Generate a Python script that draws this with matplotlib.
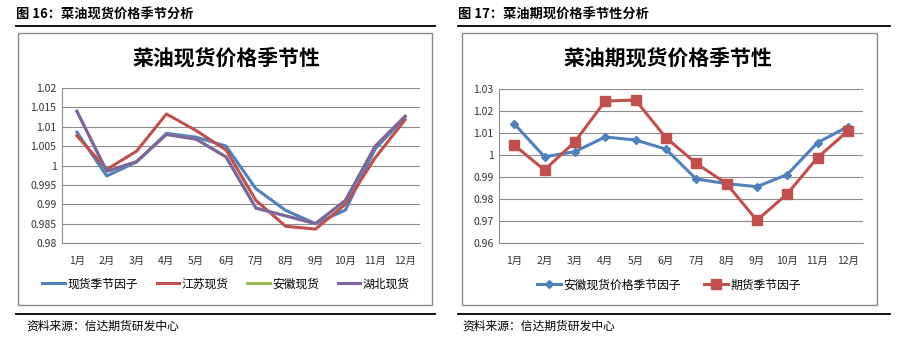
import matplotlib
matplotlib.use("Agg")
import matplotlib.pyplot as plt
from matplotlib.patches import Rectangle
from matplotlib.lines import Line2D

plt.rcParams['font.family'] = ['Noto Sans CJK SC', 'DejaVu Sans']

months = ["1月", "2月", "3月", "4月", "5月", "6月", "7月", "8月", "9月", "10月", "11月", "12月"]

# Left chart: 菜油现货价格季节性
spot_factor = [1.0086, 0.9973, 1.0009, 1.0083, 1.0073, 1.0050, 0.9940, 0.9884, 0.9850, 0.9885, 1.0043, 1.0125]
jiangsu = [1.0077, 0.9990, 1.0037, 1.0133, 1.0090, 1.0040, 0.9910, 0.9843, 0.9836, 0.9900, 1.0020, 1.0118]
anhui = [1.0140, 0.9985, 1.0010, 1.0080, 1.0068, 1.0022, 0.9890, 0.9870, 0.9850, 0.9910, 1.0050, 1.0127]
hubei = [1.0140, 0.9985, 1.0010, 1.0080, 1.0068, 1.0022, 0.9890, 0.9870, 0.9850, 0.9910, 1.0050, 1.0127]
left_yticks = [0.98, 0.985, 0.99, 0.995, 1.0, 1.005, 1.01, 1.015, 1.02]
left_ylabels = ["0.98", "0.985", "0.99", "0.995", "1", "1.005", "1.01", "1.015", "1.02"]

# Right chart: 菜油期现价格季节性
anhui_factor = [1.0142, 0.9992, 1.0015, 1.0082, 1.0068, 1.0027, 0.9891, 0.9870, 0.9856, 0.9911, 1.0056, 1.0129]
futures_factor = [1.0045, 0.9932, 1.0060, 1.0245, 1.0250, 1.0079, 0.9962, 0.9870, 0.9703, 0.9823, 0.9988, 1.0109]
right_yticks = [0.96, 0.97, 0.98, 0.99, 1.0, 1.01, 1.02, 1.03]
right_ylabels = ["0.96", "0.97", "0.98", "0.99", "1", "1.01", "1.02", "1.03"]

W, H = 910, 356
fig = plt.figure(figsize=(W / 100, H / 100), dpi=100)

def fx(x):
    return x / W

def fy(y):
    return 1 - y / H

BLUE = "#4F81BD"
RED = "#C0504D"
GREEN = "#9BBB59"
PURPLE = "#8064A2"
GRID = "#8C8C8C"

def add_ax(x0, y0, x1, y1):
    ax = fig.add_axes([fx(x0), fy(y1), fx(x1 - x0), (y1 - y0) / H])
    return ax

def style(ax, yticks, ylabels):
    ax.set_yticks(yticks)
    ax.set_yticklabels(ylabels)
    ax.set_ylim(yticks[0], yticks[-1])
    ax.set_xlim(-0.5, 11.5)
    ax.set_xticks(range(12))
    ax.set_xticklabels(months)
    ax.tick_params(length=0, labelsize=7.5, colors="#333333")
    ax.tick_params(axis='x', pad=9)
    ax.tick_params(axis='y', pad=4)
    ax.grid(axis='y', color=GRID, linewidth=0.8)
    ax.set_axisbelow(True)
    for s in ["top", "right"]:
        ax.spines[s].set_visible(False)
    for s in ["left", "bottom"]:
        ax.spines[s].set_color(GRID)
        ax.spines[s].set_linewidth(0.8)

# frames and rules
for (bx0, bx1, rx0, rx1) in [(18, 432, 16, 435), (462, 877, 458, 890)]:
    fig.patches.append(Rectangle((fx(bx0), fy(305)), fx(bx1 - bx0), (305 - 33) / H,
                                 transform=fig.transFigure, fill=False,
                                 edgecolor="#8A8A8A", linewidth=1.0))
    for yy in (26, 314):
        fig.lines.append(Line2D([fx(rx0), fx(rx1)], [fy(yy), fy(yy)],
                                transform=fig.transFigure, color="black", linewidth=1.3))

# headers
fig.text(fx(16), fy(15), "图 16：菜油现货价格季节分析", fontsize=9.5, fontweight='bold', va='center', ha='left')
fig.text(fx(458), fy(15), "图 17：菜油期现价格季节性分析", fontsize=9.5, fontweight='bold', va='center', ha='left')
fig.text(fx(26), fy(326), "资料来源：信达期货研发中心", fontsize=8.5, va='center', ha='left')
fig.text(fx(462), fy(326), "资料来源：信达期货研发中心", fontsize=8.5, va='center', ha='left')

# left chart
ax1 = add_ax(62, 88, 420, 243)
x = list(range(12))
l1, = ax1.plot(x, spot_factor, color=BLUE, lw=2.2, label="现货季节因子")
l2, = ax1.plot(x, jiangsu, color=RED, lw=2.2, label="江苏现货")
l3, = ax1.plot(x, anhui, color=GREEN, lw=2.2, label="安徽现货")
l4, = ax1.plot(x, hubei, color=PURPLE, lw=2.2, label="湖北现货")
style(ax1, left_yticks, left_ylabels)
fig.text(fx(226), fy(58), "菜油现货价格季节性", fontsize=15, fontweight='bold', ha='center', va='center')
fig.legend(handles=[l1, l2, l3, l4], loc='center', bbox_to_anchor=(fx(226), fy(284)),
           ncol=4, frameon=False, fontsize=8.5, handlelength=1.9, handletextpad=0.2,
           columnspacing=1.6)

# right chart
ax2 = add_ax(499, 89, 863, 243)
r1, = ax2.plot(x, anhui_factor, color=BLUE, lw=2.2, marker='D', markersize=4.5, label="安徽现货价格季节因子")
r2, = ax2.plot(x, futures_factor, color=RED, lw=2.2, marker='s', markersize=6.5, label="期货季节因子")
style(ax2, right_yticks, right_ylabels)
fig.text(fx(668), fy(58), "菜油期现货价格季节性", fontsize=15, fontweight='bold', ha='center', va='center')
fig.legend(handles=[r1, r2], loc='center', bbox_to_anchor=(fx(669), fy(285)),
           ncol=2, frameon=False, fontsize=8.5, handlelength=2.0, handletextpad=0.2,
           columnspacing=2.0)

fig.savefig("out.png", dpi=100)
